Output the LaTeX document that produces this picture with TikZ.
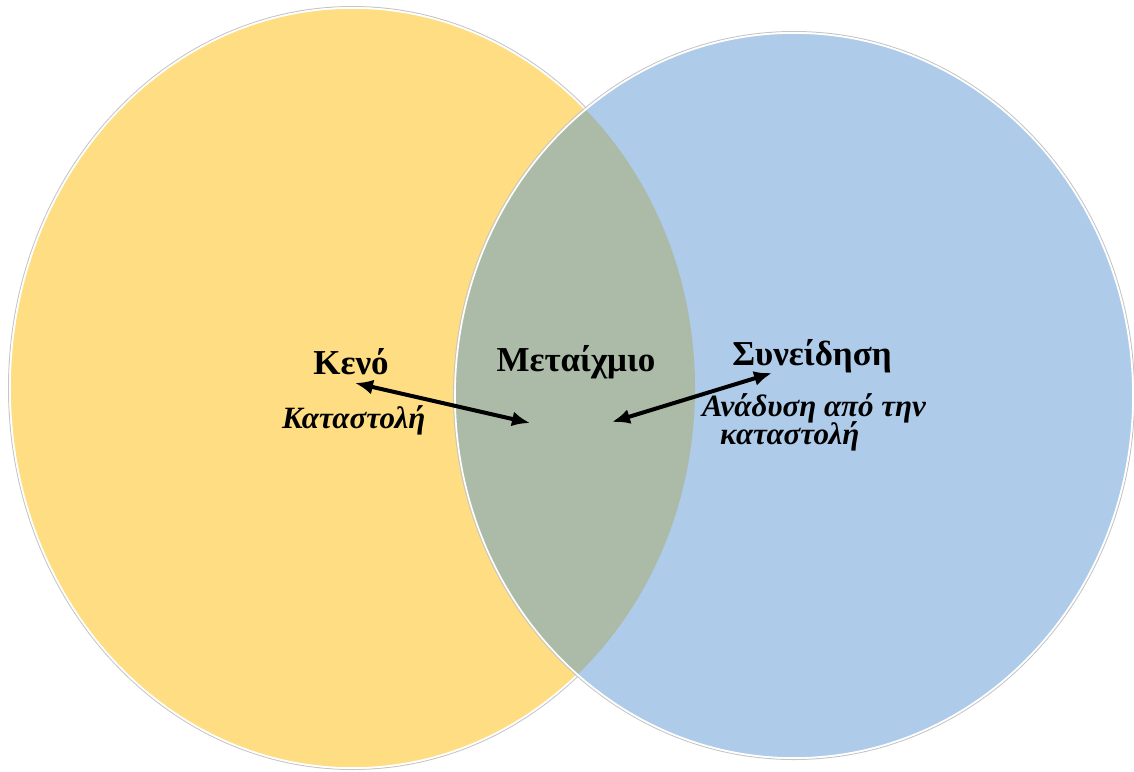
\documentclass[tikz,border=0pt]{standalone}
\usepackage{fontspec}
\setmainfont{Liberation Serif}
\usetikzlibrary{arrows.meta}
\definecolor{venyellow}{HTML}{FEDD83}
\definecolor{venblue}{HTML}{AECBE9}
\definecolor{vengreen}{HTML}{ABBBA8}
\tikzset{
  title/.style={font=\fontsize{35}{40}\selectfont\bfseries, inner sep=0pt},
  sub/.style={font=\fontsize{31}{36}\selectfont\bfseries\itshape, inner sep=0pt, anchor=base west},
  arr/.style={line width=4pt, {Latex[length=18pt,width=15pt]}-{Latex[length=18pt,width=15pt]}},
  rim/.style={draw=white, line width=1.6pt},
  shade/.style={draw=black!22, line width=1pt}
}
\begin{document}
\begin{tikzpicture}[x=1pt,y=-1pt]
\useasboundingbox (0,0) rectangle (1134,771);
% yellow circle
\draw[shade] (352.5,388) ellipse [x radius=344, y radius=381.5];
\fill[venyellow] (352.5,388) ellipse [x radius=342.5, y radius=380];
\draw[rim] (352.5,388) ellipse [x radius=342.5, y radius=380];
% blue circle
\draw[shade] (794,395.5) ellipse [x radius=340.5, y radius=364];
\fill[venblue] (794,395.5) ellipse [x radius=339, y radius=362.5];
% overlap
\begin{scope}
  \clip (352.5,388) ellipse [x radius=342.5, y radius=380];
  \fill[vengreen] (794,395.5) ellipse [x radius=339, y radius=362.5];
\end{scope}
\draw[rim] (794,395.5) ellipse [x radius=339, y radius=362.5];
% texts
\node[title] (keno) at (351,362) {Κενό};
\node[title] (metaixmio) at (576,362) {Μεταίχμιο};
\node[title] (syneidisi) at (812,356) {Συνείδηση};
\node[sub] (katastoli) at (282,428) {Καταστολή};
\node[sub] (anadysi) at (702,416) {Ανάδυση από την};
\node[sub] (katastoli2) at (720,444) {καταστολή};
% arrows
\coordinate (l1) at (355,383);
\coordinate (l2) at (530,423);
\coordinate (r1) at (612,422);
\coordinate (r2) at (772,373);
\draw[arr] (l1) -- (l2);
\draw[arr] (r1) -- (r2);
\end{tikzpicture}
\end{document}
